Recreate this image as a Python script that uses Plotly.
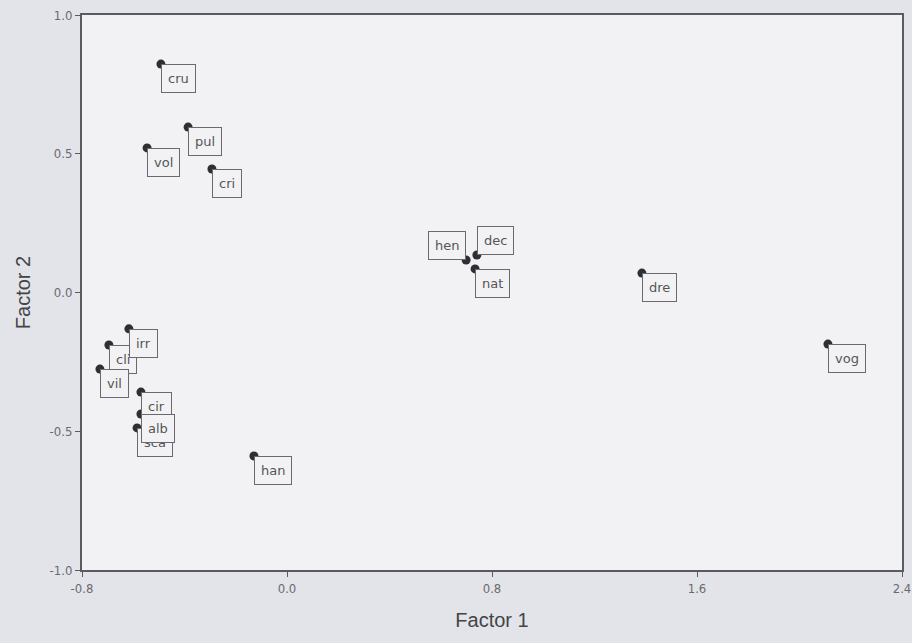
import plotly.graph_objects as go

labels = ["cru", "pul", "vol", "cri", "hen", "dec", "nat", "dre", "vog",
          "cli", "irr", "vil", "sca", "cir", "alb", "han"]
factor1 = [-0.492, -0.386, -0.546, -0.293, 0.699, 0.741, 0.734, 1.385, 2.111,
           -0.695, -0.617, -0.730, -0.585, -0.570, -0.570, -0.129]
factor2 = [0.823, 0.596, 0.521, 0.445, 0.117, 0.135, 0.085, 0.070, -0.186,
           -0.189, -0.131, -0.276, -0.488, -0.359, -0.438, -0.589]
x_ticks = [-0.8, 0.0, 0.8, 1.6, 2.4]
x_tick_text = ["-0.8", "0.0", "0.8", "1.6", "2.4"]
y_ticks = [-1.0, -0.5, 0.0, 0.5, 1.0]
y_tick_text = ["-1.0", "-0.5", "0.0", "0.5", "1.0"]

# label placement relative to the point
placement = {"hen": ("right", "bottom"), "dec": ("left", "bottom")}

plot_bg = "#f2f2f5"
fig = go.Figure()
fig.add_trace(go.Scatter(
    x=factor1, y=factor2, mode="markers",
    marker=dict(size=9, color="#2e2e33"),
    hoverinfo="text", text=labels, showlegend=False,
))

for lab, xv, yv in zip(labels, factor1, factor2):
    xa, ya = placement.get(lab, ("left", "top"))
    fig.add_annotation(
        x=xv, y=yv, text=lab, showarrow=False,
        xanchor=xa, yanchor=ya,
        font=dict(family="DejaVu Sans", size=13, color="#555"),
        bordercolor="#6a6a6e", borderwidth=1, borderpad=6,
        bgcolor=plot_bg,
    )

axis_common = dict(
    showgrid=False, zeroline=False, showline=True, mirror=True,
    linecolor="#5a5a60", linewidth=2, automargin=False,
    ticks="outside", ticklen=5, tickcolor="#5a5a60",
    tickfont=dict(family="DejaVu Sans Condensed", size=13, color="#6a6a6e"),
    title_font=dict(family="Liberation Sans", size=20, color="#444"),
)

fig.update_layout(
    width=912, height=643,
    margin=dict(l=82, r=10, t=15, b=73),
    paper_bgcolor="#e2e4ea", plot_bgcolor=plot_bg,
    xaxis=dict(range=[-0.8, 2.4], tickvals=x_ticks, ticktext=x_tick_text,
               title=dict(text="Factor 1", standoff=18), **axis_common),
    yaxis=dict(range=[-1.0, 1.0], tickvals=y_ticks, ticktext=y_tick_text,
               title=dict(text="Factor 2", standoff=14), **axis_common),
)

fig.write_html("out.html",
               config={"displayModeBar": False},
               post_script="document.body.style.margin='0px';document.body.style.overflow='hidden';")
